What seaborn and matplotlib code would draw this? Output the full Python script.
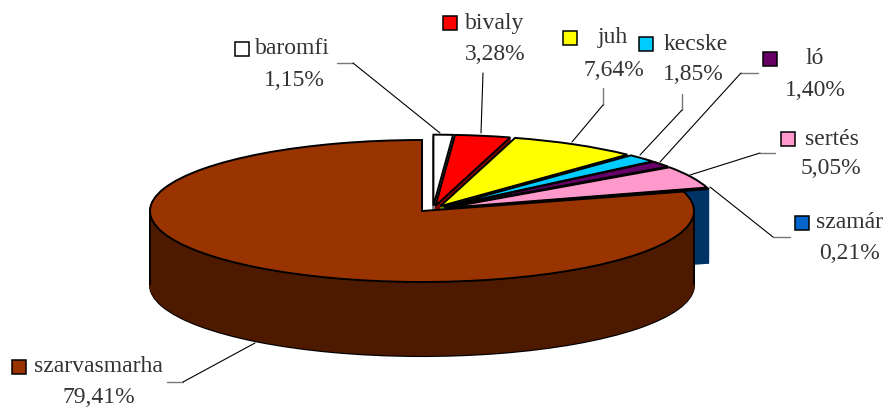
import numpy as np
import matplotlib
matplotlib.use("Agg")
import matplotlib.pyplot as plt
from matplotlib.patches import Rectangle
import seaborn as sns

# ---- data ----
categories = ["baromfi", "bivaly", "juh", "kecske", "ló", "sertés", "szamár", "szarvasmarha"]
shares = [1.15, 3.28, 7.64, 1.85, 1.40, 5.05, 0.21, 79.41]
share_labels = ["1,15%", "3,28%", "7,64%", "1,85%", "1,40%", "5,05%", "0,21%", "79,41%"]
top_hex = ["#FFFFFF", "#FF0000", "#FFFF00", "#00CCFF", "#660066", "#FF99CC", "#0066CC", "#993300"]
side_hex = ["#808080", "#800000", "#808000", "#006680", "#330033", "#804D66", "#003366", "#4D1A00"]

# ---- layout (pixels of the 886x411 picture) ----
W, H = 886, 411
PIE_X, PIE_Y, RX, RY = 422, 211, 272, 71
DEPTH_PX = 74
GROUP_SHIFT = (0.04, 0.02)
EXPLODE = 0.055
LAYERS = 90

key_xy = [(235, 42), (443, 16), (563, 31), (639, 37), (763, 52), (781, 132), (795, 216), (12, 360)]
name_xy = [(255, 48), (465, 24), (598, 38), (664, 44), (805, 58), (805, 139), (816, 222), (34, 366)]
pct_xy = [(294, 80), (495, 55), (614, 70), (693, 75), (815, 90), (831, 168), (850, 253), (99, 397)]
leaders = [
    [(337, 63), (353, 63), (440, 133)],
    [(483, 73), (483, 73), (481, 133)],
    [(603, 88), (603, 105), (572, 142)],
    [(682, 94), (682, 110), (640, 155)],
    [(758, 73), (741, 73), (660, 162)],
    [(775, 153), (760, 153), (690, 175)],
    [(790, 237), (773, 237), (710, 187)],
    [(167, 382), (183, 382), (255, 343)],
]

sns.set_theme(style="white")
plt.rcParams["font.family"] = ["Liberation Serif", "DejaVu Serif"]
top_colors = sns.color_palette(top_hex)
side_colors = sns.color_palette(side_hex)

fig = plt.figure(figsize=(W / 100, H / 100), dpi=100)
ax = fig.add_axes([0, 0, 1, 1])
n = len(shares)
explode = [EXPLODE] * (n - 1) + [0]


def layer(dy, colors, edge, lw, keep_main):
    """One horizontal slice of the extruded pie, at depth dy (in RY units)."""
    wedges, _ = ax.pie(
        shares, colors=colors, startangle=90, counterclock=False, radius=1,
        explode=explode if not keep_main else None,
        center=(0, -dy) if keep_main else (GROUP_SHIFT[0], GROUP_SHIFT[1] - dy),
        wedgeprops={"linewidth": lw, "edgecolor": edge if edge else None},
    )
    for i, w in enumerate(wedges):
        is_main = i == n - 1
        w.set_visible(is_main == keep_main)
        if edge is None:
            w.set_edgecolor(side_colors[i])
    return wedges


depth = DEPTH_PX / RY
depths = np.linspace(depth, 0, LAYERS, endpoint=False)

# exploded group: walls, then tops
for d in depths:
    layer(d, side_colors, None, 1.0, False)
layer(0, top_colors, "black", 1.4, False)

# main slice: walls, outline of the bottom, silhouette, top
layer(depth, side_colors, "black", 1.5, True)
for d in depths[1:]:
    layer(d, side_colors, None, 1.0, True)
ax.vlines([-1, 1], -depth, 0, colors="black", linewidth=1.3, zorder=3)
top = layer(0, top_colors, "black", 1.4, True)
for w in top:
    w.set_zorder(4)

ax.set_aspect("auto")
ax.set_xlim(-PIE_X / RX, (W - PIE_X) / RX)
ax.set_ylim((PIE_Y - H) / RY, PIE_Y / RY)
ax.axis("off")

# ---- annotation layer ----
ov = fig.add_axes([0, 0, 1, 1], facecolor="none")
ov.set_xlim(0, W)
ov.set_ylim(H, 0)
ov.axis("off")
TEXT = "#333333"
FS = 17
for i, cat in enumerate(categories):
    kx, ky = key_xy[i]
    ov.add_patch(Rectangle((kx, ky), 14, 14, facecolor=top_colors[i], edgecolor="black", linewidth=1.1))
    nx, ny = name_xy[i]
    ov.text(nx, ny, cat, fontsize=FS, color=TEXT, ha="left", va="center")
    px, py = pct_xy[i]
    ov.text(px, py, share_labels[i], fontsize=FS, color=TEXT, ha="center", va="center")
    (x0, y0), (x1, y1), (x2, y2) = leaders[i]
    ov.plot([x0, x1], [y0, y1], color="#777777", linewidth=1)
    ov.plot([x1, x2], [y1, y2], color="black", linewidth=0.8)

fig.savefig("out.png", dpi=100)
